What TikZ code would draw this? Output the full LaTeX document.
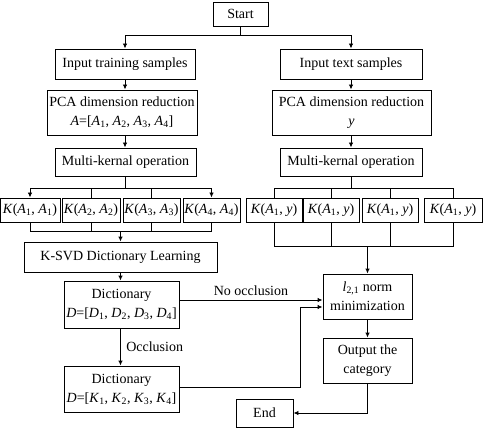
\documentclass[tikz,border=0pt]{standalone}
\usepackage{fontspec}
\setmainfont{Liberation Serif}
\usetikzlibrary{arrows.meta}
\newcommand{\vi}[1]{\textit{#1}}
\newcommand{\KA}[2]{\vi{K}(\vi{A}\textsubscript{#1}, \vi{#2})}
\newcommand{\KAA}[2]{\vi{K}(\vi{A}\textsubscript{#1}, \vi{A}\textsubscript{#2})}
\begin{document}
\begin{tikzpicture}[x=1pt,y=-1pt, font=\fontsize{14}{19}\selectfont,
  line width=0.9pt,
  bx/.style={draw, line width=0.9pt, inner sep=0pt, align=center},
  arr/.style={-{Latex[length=5pt,width=4.5pt]}}]
\useasboundingbox (0,0) rectangle (489,430);
% nodes
\node[bx, minimum width=55pt, minimum height=24pt] (start) at (240.5,14) {Start};
\node[bx, minimum width=140pt, minimum height=30pt] (train) at (125,64) {Input training samples};
\node[bx, minimum width=150pt, minimum height=45pt] (pcaL) at (122,112.5) {PCA dimension reduction\\ \vi{A}=[\vi{A}\textsubscript{1}, \vi{A}\textsubscript{2}, \vi{A}\textsubscript{3}, \vi{A}\textsubscript{4}]};
\node[bx, minimum width=141pt, minimum height=28pt] (mkL) at (125.5,162) {Multi-kernal operation};
\node[bx, minimum width=142pt, minimum height=30pt] (text) at (351,64) {Input text samples};
\node[bx, minimum width=159pt, minimum height=45pt] (pcaR) at (351.5,112.5) {PCA dimension reduction\\ \vi{y}};
\node[bx, minimum width=142pt, minimum height=28pt] (mkR) at (351,162) {Multi-kernal operation};
% kernel boxes
\node[bx, minimum width=60pt, minimum height=24pt] (k1) at (30,210) {\KAA{1}{1}};
\node[bx, minimum width=58pt, minimum height=24pt] (k2) at (91,210) {\KAA{2}{2}};
\node[bx, minimum width=57pt, minimum height=24pt] (k3) at (151.5,210) {\KAA{3}{3}};
\node[bx, minimum width=57pt, minimum height=24pt] (k4) at (211.5,210) {\KAA{4}{4}};
\node[bx, minimum width=56pt, minimum height=24pt] (r1) at (274,210) {\KA{1}{y}};
\node[bx, minimum width=56pt, minimum height=24pt] (r2) at (331,210) {\KA{1}{y}};
\node[bx, minimum width=56pt, minimum height=24pt] (r3) at (390,210) {\KA{1}{y}};
\node[bx, minimum width=58pt, minimum height=24pt] (r4) at (453,210) {\KA{1}{y}};
% lower
\node[bx, minimum width=193pt, minimum height=30pt] (ksvd) at (120.5,257) {K-SVD Dictionary Learning};
\node[bx, minimum width=115pt, minimum height=47pt] (dict1) at (121.5,304.5) {Dictionary\\ \vi{D}=[\vi{D}\textsubscript{1}, \vi{D}\textsubscript{2}, \vi{D}\textsubscript{3}, \vi{D}\textsubscript{4}]};
\node[bx, minimum width=115pt, minimum height=46pt] (dict2) at (121.5,389) {Dictionary\\ \vi{D}=[\vi{K}\textsubscript{1}, \vi{K}\textsubscript{2}, \vi{K}\textsubscript{3}, \vi{K}\textsubscript{4}]};
\node[bx, minimum width=89pt, minimum height=45pt] (l21) at (367.5,296.5) {\vi{l}\textsubscript{2,1} norm\\ minimization};
\node[bx, minimum width=89pt, minimum height=45pt] (out) at (367.5,360.5) {Output the\\ category};
\node[bx, minimum width=57pt, minimum height=28pt] (end) at (264.5,413) {End};
% connectors top
\draw (start.south) -- (240.5,35) coordinate (tsplit);
\draw[arr] (tsplit) -| (train.north);
\draw[arr] (tsplit) -| (text.north);
\draw[arr] (train.south) -- (train.south |- pcaL.north);
\draw[arr] (train.south |- pcaL.south) -- (train.south |- mkL.north);
\draw[arr] (text.south) -- (text.south |- pcaR.north);
\draw[arr] (text.south |- pcaR.south) -- (text.south |- mkR.north);
% left kernel bus
\draw (train.south |- mkL.south) -- (125,188) coordinate (bL);
\draw[arr] (bL) -| (k1.north);
\draw[arr] (bL) -| (k4.north);
\draw (bL) -| (k2.north);
\draw (bL) -| (k3.north);
% right kernel bus
\draw (text.south |- mkR.south) -- (351,188) coordinate (bR);
\draw (bR) -| (r1.north);
\draw (bR) -| (r4.north);
\draw (bR) -| (r2.north);
\draw (bR) -| (r3.north);
% left bottom bus
\draw (k1.south) -- (30,231) coordinate (cL) -| (k4.south);
\draw (k2.south) -- (k2.south |- cL);
\draw (k3.south) -- (k3.south |- cL);
\draw[arr] (ksvd.north |- cL) -- (ksvd.north);
% right bottom bus
\draw (r1.south) -- (274,246) coordinate (cR) -| (r4.south);
\draw (r2.south) -- (r2.south |- cR);
\draw (r3.south) -- (r3.south |- cR);
\draw[arr] (l21.north |- cR) -- (l21.north);
% dictionary flow
\draw[arr] (ksvd.south) -- (ksvd.south |- dict1.north);
\draw[arr] (ksvd.south |- dict1.south) -- node[right=2pt] (occ) {Occlusion} (ksvd.south |- dict2.north);
\draw[arr] (dict1.east |- 0,300) -- node[above=1pt] (nocc) {No occlusion} (l21.west |- 0,300);
\draw[arr] (dict2.east |- 0,387) -- (300,387) coordinate (dk) -- (300,307) -- (l21.west |- 0,307);
\draw[arr] (l21.south) -- (out.north);
\draw[arr] (out.south) |- (end.east);
\end{tikzpicture}
\end{document}
